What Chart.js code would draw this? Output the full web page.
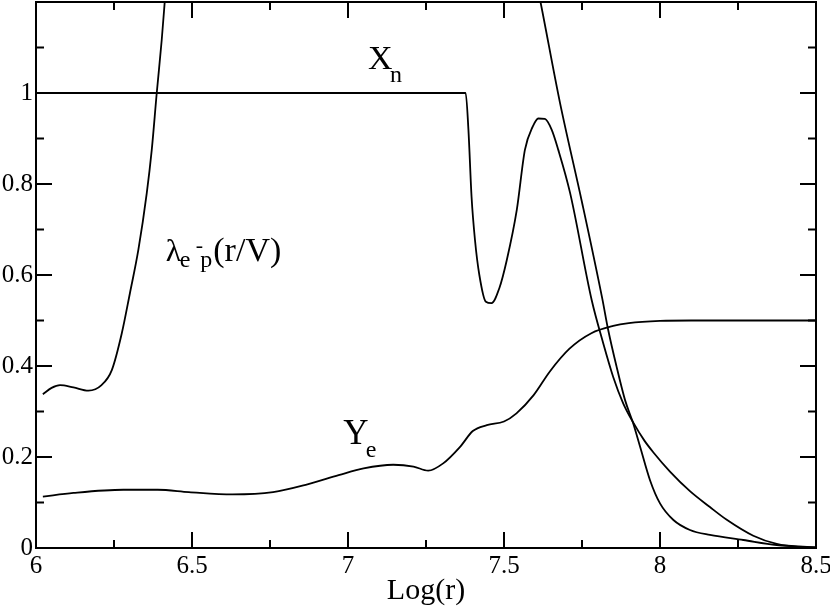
<!DOCTYPE html>
<html><head><meta charset="utf-8">
<script src="https://cdn.jsdelivr.net/npm/chart.js@4.4.1/dist/chart.umd.min.js"></script>
<style>html,body{margin:0;padding:0;background:#fff}#wrap{width:830px;height:609px}</style>
</head><body><div id="wrap"><canvas id="c" width="830" height="609"></canvas></div>
<script>
// ---- data ----
const yeX = [6.022, 6.12, 6.28, 6.39, 6.49, 6.63, 6.76, 6.87, 6.97, 7.05, 7.145, 7.21, 7.257, 7.305, 7.36, 7.40, 7.445, 7.50, 7.54, 7.595, 7.647, 7.71, 7.78, 7.85, 7.90, 8.0, 8.1, 8.5];
const yeY = [0.113, 0.121, 0.128, 0.128, 0.123, 0.118, 0.123, 0.140, 0.160, 0.175, 0.183, 0.179, 0.170, 0.186, 0.223, 0.257, 0.270, 0.278, 0.296, 0.336, 0.388, 0.438, 0.472, 0.488, 0.494, 0.499, 0.5, 0.5];

const xnX = [6.022, 7.377, 7.386, 7.396, 7.407, 7.421, 7.442, 7.46, 7.485, 7.509, 7.541, 7.567, 7.592, 7.61, 7.631, 7.653, 7.674, 7.712, 7.781, 7.818, 7.85, 7.882, 7.914, 7.95, 7.979, 8.032, 8.096, 8.16, 8.214, 8.299, 8.374, 8.45, 8.5];
const xnY = [1.0, 1.0, 0.919, 0.772, 0.677, 0.600, 0.541, 0.538, 0.571, 0.633, 0.743, 0.875, 0.926, 0.944, 0.943, 0.919, 0.875, 0.78, 0.545, 0.45, 0.376, 0.318, 0.276, 0.236, 0.210, 0.168, 0.125, 0.09, 0.062, 0.027, 0.009, 0.002, 0.001];

const lamX = [6.022, 6.05, 6.077, 6.12, 6.168, 6.21, 6.243, 6.275, 6.301, 6.328, 6.355, 6.371, 6.387, 6.403, 6.413, 6.44, 7.0, 7.59, 7.617, 7.679, 7.75, 7.815, 7.834, 7.861, 7.888, 7.914, 7.936, 7.968, 8.0, 8.043, 8.096, 8.16, 8.267, 8.374, 8.5];
const lamY = [0.338, 0.352, 0.358, 0.353, 0.346, 0.358, 0.391, 0.472, 0.560, 0.655, 0.780, 0.875, 1.0, 1.117, 1.204, 1.45, null, 1.29, 1.2, 0.98, 0.76, 0.548, 0.479, 0.398, 0.325, 0.274, 0.223, 0.149, 0.098, 0.0615, 0.0396, 0.0286, 0.0176, 0.0066, 0.002];

const xMinor = [6.25, 6.75, 7.25, 7.75, 8.25];
const yMinor = [0.1, 0.3, 0.5, 0.7, 0.9, 1.1];

// in-plot text labels: anchor in data coordinates, pieces with pixel offsets
const textLabels = [
  {x: 7.064, y: 1.053, parts: [{t: 'X', dx: 0, dy: 0, s: 34}, {t: 'n', dx: 22, dy: 12.7, s: 24}]},
  {x: 6.416, y: 0.63, parts: [{t: 'λ', dx: 0, dy: 0, s: 32}, {t: 'e', dx: 14, dy: 5.5, s: 24}, {t: '-', dx: 30, dy: -9, s: 22}, {t: 'p', dx: 34.5, dy: 6, s: 24}, {t: '(r/V)', dx: 47.5, dy: 0, s: 34}]},
  {x: 6.985, y: 0.228, parts: [{t: 'Y', dx: 0, dy: 0, s: 35}, {t: 'e', dx: 22.5, dy: 12.4, s: 24}]}
];

const FONT = '"Liberation Serif", "Times New Roman", serif';

function pts(xs, ys) { return xs.map((v, i) => ({x: v, y: ys[i]})); }

const framePlugin = {
  id: 'frame',
  afterDraw(chart) {
    const {ctx, chartArea: a, scales: {x, y}} = chart;
    ctx.save();
    ctx.strokeStyle = '#000';
    ctx.lineWidth = 2;
    ctx.strokeRect(a.left, a.top, a.right - a.left, a.bottom - a.top);
    const MAJ = 16, MIN = 8;
    ctx.beginPath();
    x.ticks.forEach(t => {
      const px = x.getPixelForValue(t.value);
      ctx.moveTo(px, a.bottom); ctx.lineTo(px, a.bottom - MAJ);
      ctx.moveTo(px, a.top); ctx.lineTo(px, a.top + MAJ);
    });
    xMinor.forEach(v => {
      const px = x.getPixelForValue(v);
      ctx.moveTo(px, a.bottom); ctx.lineTo(px, a.bottom - MIN);
      ctx.moveTo(px, a.top); ctx.lineTo(px, a.top + MIN);
    });
    y.ticks.forEach(t => {
      const py = y.getPixelForValue(t.value);
      ctx.moveTo(a.left, py); ctx.lineTo(a.left + MAJ, py);
      ctx.moveTo(a.right, py); ctx.lineTo(a.right - MAJ, py);
    });
    yMinor.forEach(v => {
      const py = y.getPixelForValue(v);
      ctx.moveTo(a.left, py); ctx.lineTo(a.left + MIN, py);
      ctx.moveTo(a.right, py); ctx.lineTo(a.right - MIN, py);
    });
    ctx.stroke();

    ctx.fillStyle = '#000';
    ctx.textBaseline = 'alphabetic';
    ctx.textAlign = 'left';
    textLabels.forEach(l => {
      const bx = x.getPixelForValue(l.x), by = y.getPixelForValue(l.y);
      l.parts.forEach(p => {
        ctx.font = p.s + 'px ' + FONT;
        ctx.fillText(p.t, bx + p.dx, by + p.dy);
      });
    });
    ctx.restore();
  }
};

const lineStyle = {borderColor: '#000', borderWidth: 1.8, pointRadius: 0, fill: false, cubicInterpolationMode: 'monotone', spanGaps: false, clip: 0};

new Chart(document.getElementById('c'), {
  type: 'line',
  data: {
    datasets: [
      Object.assign({label: 'Ye', data: pts(yeX, yeY)}, lineStyle),
      Object.assign({label: 'Xn', data: pts(xnX, xnY)}, lineStyle),
      Object.assign({label: 'lambda', data: pts(lamX, lamY)}, lineStyle)
    ]
  },
  options: {
    responsive: false,
    animation: false,
    devicePixelRatio: 1,
    layout: {padding: {top: 2, right: 14, left: 0, bottom: 0}},
    plugins: {legend: {display: false}, tooltip: {enabled: false}},
    scales: {
      x: {
        type: 'linear', min: 6, max: 8.5,
        grid: {display: false, drawTicks: false, tickLength: 0}, border: {display: false},
        ticks: {stepSize: 0.5, autoSkip: false, maxRotation: 0, padding: 3, color: '#000',
                font: {family: FONT, size: 25},
                callback: v => String(+v.toFixed(2))},
        title: {display: true, text: 'Log(r)', color: '#000', font: {family: FONT, size: 30, lineHeight: 1}, padding: {top: 0, bottom: 3}},
        afterFit: s => { s.height = 61; s.paddingLeft = 0; s.paddingRight = 0; }
      },
      y: {
        type: 'linear', min: 0, max: 1.2,
        grid: {display: false, drawTicks: false, tickLength: 0}, border: {display: false},
        ticks: {stepSize: 0.2, autoSkip: false, padding: 3, color: '#000',
                font: {family: FONT, size: 25},
                callback: v => v > 1.05 ? '' : String(+v.toFixed(2))},
        afterFit: s => { s.width = 36; s.paddingTop = 0; s.paddingBottom = 0; }
      }
    }
  },
  plugins: [framePlugin]
});
</script>
</body></html>
